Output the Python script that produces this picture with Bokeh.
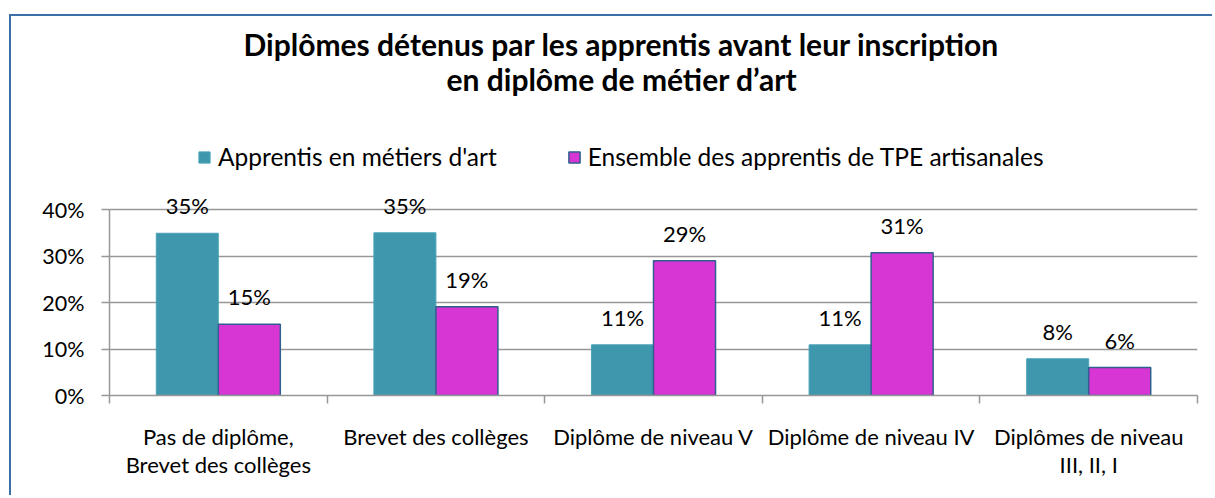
from bokeh.plotting import figure
from bokeh.models import (ColumnDataSource, FixedTicker, PrintfTickFormatter, Legend,
                          LegendItem, Title, Range1d)
from bokeh.transform import dodge
from bokeh.core.properties import value
from bokeh.embed import file_html
from bokeh.resources import INLINE

categories = ["Pas de diplôme,\nBrevet des collèges", "Brevet des collèges",
              "Diplôme de niveau V", "Diplôme de niveau IV", "Diplômes de niveau\nIII, II, I"]
series_names = ["Apprentis en métiers d'art", "Ensemble des apprentis de TPE artisanales"]
metiers_art = [34.9, 35.0, 10.9, 10.9, 7.9]
ensemble_tpe = [15.3, 19.1, 29.0, 30.7, 6.0]
metiers_labels = ["35%", "35%", "11%", "11%", "8%"]
ensemble_labels = ["15%", "19%", "29%", "31%", "6%"]
y_ticks = [0, 10, 20, 30, 40]
title_lines = ["Diplômes détenus par les apprentis avant leur inscription",
               "en diplôme de métier d’art"]

FONT = "Lato"
TEAL = "#3E97AD"
MAGENTA = "#D835D5"
MAG_LINE = "#2F5F8F"
GRID = "#979797"
BORDER = "2px solid #3C6EAA"

pos = [i + 0.5 for i in range(len(categories))]
src = ColumnDataSource(dict(x=pos, a=metiers_art, b=ensemble_tpe,
                            la=metiers_labels, lb=ensemble_labels))

p = figure(width=1203, height=481, x_range=Range1d(0, len(categories)),
           y_range=Range1d(0, 64.1), output_backend="svg", toolbar_location=None,
           min_border_left=98, min_border_right=17, min_border_top=81,
           min_border_bottom=102)
p.outline_line_color = None
p.margin = (14, 0, 0, 9)
p.styles = {"border-left": BORDER, "border-top": BORDER}

bw = 0.285
r1 = p.vbar(x=dodge("x", -bw / 2, range=p.x_range), top="a", width=bw, source=src,
            fill_color=TEAL, line_color="#4BA3B8", line_width=1)
r2 = p.vbar(x=dodge("x", bw / 2, range=p.x_range), top="b", width=bw, source=src,
            fill_color=MAGENTA, line_color=MAG_LINE, line_width=1.5)

p.text(x=dodge("x", -bw / 2, range=p.x_range), y="a", text="la", source=src,
       text_align="center", text_baseline="bottom", y_offset=-14,
       text_font=value(FONT), text_font_size="22px", text_color="black")
p.text(x=dodge("x", bw / 2, range=p.x_range), y="b", text="lb", source=src,
       text_align="center", text_baseline="bottom", y_offset=-14,
       text_font=value(FONT), text_font_size="22px", text_color="black")

p.yaxis.ticker = FixedTicker(ticks=y_ticks)
p.yaxis.bounds = (0, 40)
p.yaxis.formatter = PrintfTickFormatter(format="%d%%")
p.yaxis.axis_line_color = GRID
p.yaxis.axis_line_width = 1.5
p.yaxis.major_tick_line_color = GRID
p.yaxis.major_tick_line_width = 1.5
p.yaxis.major_tick_out = 8
p.yaxis.major_tick_in = 0
p.yaxis.minor_tick_line_color = None
p.yaxis.major_label_standoff = 17
p.yaxis.major_label_text_font = FONT
p.yaxis.major_label_text_font_size = "21.5px"
p.yaxis.major_label_text_color = "black"

p.xaxis.ticker = FixedTicker(ticks=pos, minor_ticks=list(range(len(categories) + 1)))
p.xaxis.major_label_overrides = {pos[i]: categories[i] for i in range(len(categories))}
p.xaxis.major_tick_line_color = None
p.xaxis.minor_tick_line_color = GRID
p.xaxis.minor_tick_line_width = 1.5
p.xaxis.minor_tick_out = 8
p.xaxis.minor_tick_in = 0
p.xaxis.axis_line_color = GRID
p.xaxis.axis_line_width = 1.5
p.xaxis.major_label_standoff = 19
p.xaxis.major_label_text_font = FONT
p.xaxis.major_label_text_font_size = "22px"
p.xaxis.major_label_text_color = "black"
p.xaxis.major_label_text_line_height = 1.05

p.xgrid.grid_line_color = None
p.ygrid.ticker = FixedTicker(ticks=y_ticks)
p.ygrid.grid_line_color = GRID
p.ygrid.grid_line_width = 1.5

legend = Legend(items=[LegendItem(label=series_names[0], renderers=[r1]),
                       LegendItem(label=series_names[1], renderers=[r2])],
                orientation="horizontal", location=(88, 224),
                label_text_font=FONT, label_text_font_size="24.5px",
                label_text_color="black",
                glyph_width=14, glyph_height=14, label_standoff=7, spacing=70,
                padding=4, margin=0, border_line_color=None,
                background_fill_alpha=0)
p.add_layout(legend)

p.add_layout(Title(text=title_lines[1], align="left", text_font=FONT,
                   text_font_style="bold", text_font_size="30px", text_color="black",
                   offset=337, standoff=2), "above")
p.add_layout(Title(text=title_lines[0], align="left", text_font=FONT,
                   text_font_style="bold", text_font_size="30px", text_color="black",
                   offset=134, standoff=-8), "above")

open("out.html", "w").write(file_html(p, INLINE))
